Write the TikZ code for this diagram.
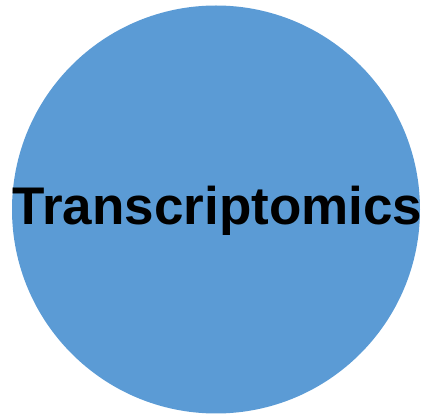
\documentclass[tikz,border=0pt]{standalone}
\usepackage{fontspec}
\setmainfont{Liberation Sans}
\definecolor{omicsblue}{HTML}{5B9BD5}
\begin{document}
\begin{tikzpicture}[x=1pt,y=1pt,
  bubble/.style={circle, fill=omicsblue, draw=none, minimum size=408pt, inner sep=0pt},
  label/.style={font=\fontsize{53}{60}\selectfont\bfseries, inner sep=0pt, anchor=base}]
  \useasboundingbox (0,0) rectangle (429,415);
  \node[bubble] (circ) at (216,205.5) {};
  \node[label] (title) at (217.5,190) {Transcriptomics};
\end{tikzpicture}
\end{document}
